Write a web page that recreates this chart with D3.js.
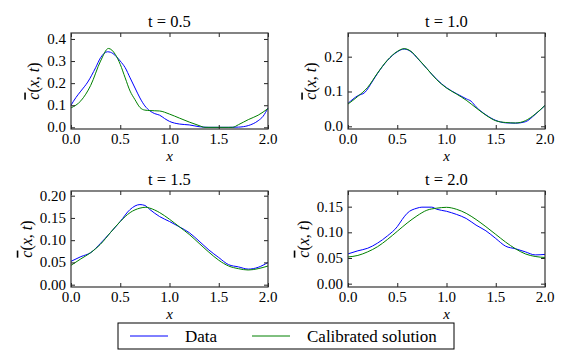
<!doctype html>
<html>
<head>
<meta charset="utf-8">
<script src="https://cdn.jsdelivr.net/npm/d3@7"></script>
</head>
<body style="margin:0">
<svg width="572" height="352"></svg>
<script>
// ---- data ----
var titles = ["t = 0.5", "t = 1.0", "t = 1.5", "t = 2.0"];
var xTicks = [0, 0.5, 1, 1.5, 2];
var yTicks = [[0, 0.1, 0.2, 0.3, 0.4], [0, 0.1, 0.2], [0, 0.05, 0.1, 0.15, 0.2], [0, 0.05, 0.1, 0.15]];
var yFormats = [".1f", ".1f", ".2f", ".2f"];
var yLims = [[-0.0075, 0.427], [-0.0077, 0.268], [-0.0052, 0.2105], [-0.0065, 0.1805]];

// t = 0.5
var dataX05 = [0, 0.05, 0.1, 0.17, 0.25, 0.3, 0.37, 0.4, 0.45, 0.5, 0.55, 0.6, 0.65, 0.7, 0.75, 0.8, 0.85, 0.9, 0.95, 1.0, 1.1, 1.2, 1.3, 1.4, 1.5, 1.6, 1.7, 1.8, 1.9, 1.95, 2.0];
var dataY05 = [0.10, 0.135, 0.164, 0.205, 0.27, 0.315, 0.342, 0.34, 0.325, 0.30, 0.27, 0.224, 0.178, 0.133, 0.097, 0.075, 0.062, 0.055, 0.04, 0.027, 0.015, 0.011, 0.003, 0, 0, 0, 0.001, 0.008, 0.03, 0.05, 0.088];
var fitX05 = [0, 0.1, 0.2, 0.3, 0.38, 0.45, 0.5, 0.55, 0.6, 0.65, 0.7, 0.75, 0.8, 0.9, 1.0, 1.1, 1.2, 1.3, 1.36, 1.64, 1.7, 1.8, 1.9, 2.0];
var fitY05 = [0.088, 0.12, 0.19, 0.30, 0.357, 0.33, 0.285, 0.224, 0.164, 0.125, 0.09, 0.078, 0.076, 0.074, 0.06, 0.042, 0.024, 0.008, 0, 0, 0.012, 0.035, 0.055, 0.085];

// t = 1.0
var dataX10 = [0, 0.1, 0.17, 0.25, 0.3, 0.4, 0.5, 0.57, 0.65, 0.7, 0.8, 0.9, 1.0, 1.1, 1.2, 1.25, 1.3, 1.4, 1.5, 1.6, 1.7, 1.8, 1.9, 2.0];
var dataY10 = [0.066, 0.088, 0.097, 0.13, 0.152, 0.189, 0.214, 0.222, 0.212, 0.197, 0.166, 0.135, 0.111, 0.094, 0.079, 0.072, 0.056, 0.033, 0.017, 0.01, 0.009, 0.013, 0.034, 0.06];
var fitX10 = [0, 0.1, 0.2, 0.3, 0.4, 0.5, 0.57, 0.65, 0.7, 0.8, 0.9, 1.0, 1.1, 1.2, 1.3, 1.4, 1.5, 1.6, 1.7, 1.8, 1.9, 2.0];
var fitY10 = [0.064, 0.086, 0.112, 0.153, 0.19, 0.215, 0.223, 0.213, 0.198, 0.166, 0.134, 0.11, 0.093, 0.075, 0.053, 0.032, 0.016, 0.011, 0.0096, 0.016, 0.035, 0.06];

// t = 1.5
var dataX15 = [0, 0.1, 0.2, 0.3, 0.4, 0.5, 0.6, 0.7, 0.75, 0.8, 0.9, 1.0, 1.1, 1.2, 1.3, 1.4, 1.5, 1.6, 1.7, 1.8, 1.9, 2.0];
var dataY15 = [0.0525, 0.063, 0.072, 0.093, 0.117, 0.142, 0.169, 0.18, 0.178, 0.169, 0.153, 0.142, 0.13, 0.117, 0.098, 0.078, 0.061, 0.045, 0.04, 0.035, 0.039, 0.05];
var fitX15 = [0, 0.1, 0.2, 0.3, 0.4, 0.5, 0.6, 0.7, 0.76, 0.8, 0.9, 1.0, 1.1, 1.2, 1.3, 1.4, 1.5, 1.6, 1.7, 1.8, 1.9, 2.0];
var fitY15 = [0.0435, 0.058, 0.072, 0.091, 0.117, 0.142, 0.162, 0.172, 0.174, 0.172, 0.162, 0.147, 0.13, 0.113, 0.093, 0.073, 0.055, 0.042, 0.036, 0.033, 0.036, 0.042];

// t = 2.0
var dataX20 = [0, 0.1, 0.2, 0.3, 0.4, 0.5, 0.55, 0.6, 0.7, 0.75, 0.85, 0.9, 1.0, 1.1, 1.2, 1.3, 1.4, 1.5, 1.6, 1.7, 1.8, 1.9, 2.0];
var dataY20 = [0.058, 0.064, 0.069, 0.079, 0.093, 0.111, 0.125, 0.137, 0.147, 0.149, 0.149, 0.145, 0.141, 0.135, 0.127, 0.114, 0.103, 0.088, 0.073, 0.068, 0.062, 0.056, 0.057];
var fitX20 = [0, 0.1, 0.2, 0.3, 0.4, 0.5, 0.6, 0.7, 0.8, 0.9, 1.0, 1.1, 1.2, 1.3, 1.4, 1.5, 1.6, 1.7, 1.8, 1.9, 2.0];
var fitY20 = [0.052, 0.055, 0.062, 0.072, 0.086, 0.102, 0.118, 0.132, 0.143, 0.147, 0.1487, 0.145, 0.137, 0.125, 0.111, 0.096, 0.081, 0.068, 0.058, 0.053, 0.051];

var legendLabels = ["Data", "Calibrated solution"];

var panels = [
    {data: [dataX05, dataY05], fit: [fitX05, fitY05]},
    {data: [dataX10, dataY10], fit: [fitX10, fitY10]},
    {data: [dataX15, dataY15], fit: [fitX15, fitY15]},
    {data: [dataX20, dataY20], fit: [fitX20, fitY20]}
];

// ---- layout ----
var serif = "'Liberation Serif'";
var svg = d3.select("svg");
var lefts = [71, 348], tops = [33, 191];
var pw = 197, ph = 96;
var blue = "#0000ff", green = "#008000";

function zip(xy) {
    return xy[0].map(function (x, i) { return [x, xy[1][i]]; });
}

// all texts go straight onto the svg, in page coordinates
function label(x, y, s, size, anchor) {
    document.fonts.check(size + "px " + serif);
    var t = svg.append("text").attr("x", x).attr("y", y)
        .style("font-family", serif).style("font-size", size + "px");
    if (anchor) t.attr("text-anchor", anchor);
    if (s !== null) t.text(s);
    return t;
}

panels.forEach(function (p, i) {
    var x0 = lefts[i % 2], y0 = tops[Math.floor(i / 2)];

    var x = d3.scaleLinear().domain([0, 2]).range([x0, x0 + pw]);
    var y = d3.scaleLinear().domain(yLims[i]).range([y0 + ph, y0]);

    var line = d3.line()
        .x(function (d) { return x(d[0]); })
        .y(function (d) { return y(d[1]); })
        .curve(d3.curveMonotoneX);

    svg.append("path").datum(zip(p.data))
        .attr("fill", "none").attr("stroke", blue).attr("stroke-width", 1)
        .attr("d", line);
    svg.append("path").datum(zip(p.fit))
        .attr("fill", "none").attr("stroke", green).attr("stroke-width", 1)
        .attr("d", line);

    // tick marks pointing in, on all four sides
    var g = svg.append("g");
    g.append("g").attr("transform", "translate(0," + (y0 + ph) + ")")
        .call(d3.axisBottom(x).tickValues(xTicks).tickSize(-4).tickFormat(""));
    g.append("g").attr("transform", "translate(0," + y0 + ")")
        .call(d3.axisTop(x).tickValues(xTicks).tickSize(-4).tickFormat(""));
    g.append("g").attr("transform", "translate(" + x0 + ",0)")
        .call(d3.axisLeft(y).tickValues(yTicks[i]).tickSize(-4).tickFormat(""));
    g.append("g").attr("transform", "translate(" + (x0 + pw) + ",0)")
        .call(d3.axisRight(y).tickValues(yTicks[i]).tickSize(-4).tickFormat(""));
    g.selectAll(".domain").remove();
    g.selectAll("text").remove();
    g.selectAll(".tick line").attr("stroke", "#222").attr("stroke-width", 1);

    svg.append("rect").attr("x", x0).attr("y", y0).attr("width", pw).attr("height", ph)
        .attr("fill", "none").attr("stroke", "#333").attr("stroke-width", 1.2);

    // tick labels from the scales
    var fx = d3.format(".1f"), fy = d3.format(yFormats[i]);
    xTicks.forEach(function (v) {
        label(x(v), y0 + ph + 15, fx(v), 15, "middle");
    });
    var minX = x0;
    yTicks[i].forEach(function (v) {
        var t = label(x0 - 5, y(v) + 5, fy(v), 15, "end");
        minX = Math.min(minX, t.node().getBBox().x);
    });

    // title and axis labels
    label(x0 + pw / 2, y0 - 6.5, titles[i], 16.5, "middle");
    label(x0 + pw / 2, y0 + ph + 32, "x", 15, "middle").style("font-style", "italic");

    var yl = label(0, 0, null, 16, "middle")
        .attr("x", null).attr("y", null)
        .attr("transform", "translate(" + (minX - 8) + "," + (y0 + ph / 2) + ") rotate(-90)");
    yl.append("tspan").style("font-style", "italic").style("text-decoration", "overline").text("c");
    yl.append("tspan").text("(");
    yl.append("tspan").style("font-style", "italic").text("x");
    yl.append("tspan").text(", ");
    yl.append("tspan").style("font-style", "italic").text("t");
    yl.append("tspan").text(")");
});

// ---- legend ----
var lx = 118, ly = 323;
svg.append("rect").attr("x", lx).attr("y", ly).attr("width", 336).attr("height", 26)
    .attr("fill", "#fff").attr("stroke", "#000").attr("stroke-width", 1);
var items = [
    {label: legendLabels[0], color: blue, x: 12},
    {label: legendLabels[1], color: green, x: 134}
];
items.forEach(function (it) {
    svg.append("line").attr("x1", lx + it.x).attr("x2", lx + it.x + 38)
        .attr("y1", ly + 13).attr("y2", ly + 13)
        .attr("stroke", it.color).attr("stroke-width", 1);
    label(lx + it.x + 55, ly + 18.5, it.label, 17);
});
</script>
</body>
</html>
